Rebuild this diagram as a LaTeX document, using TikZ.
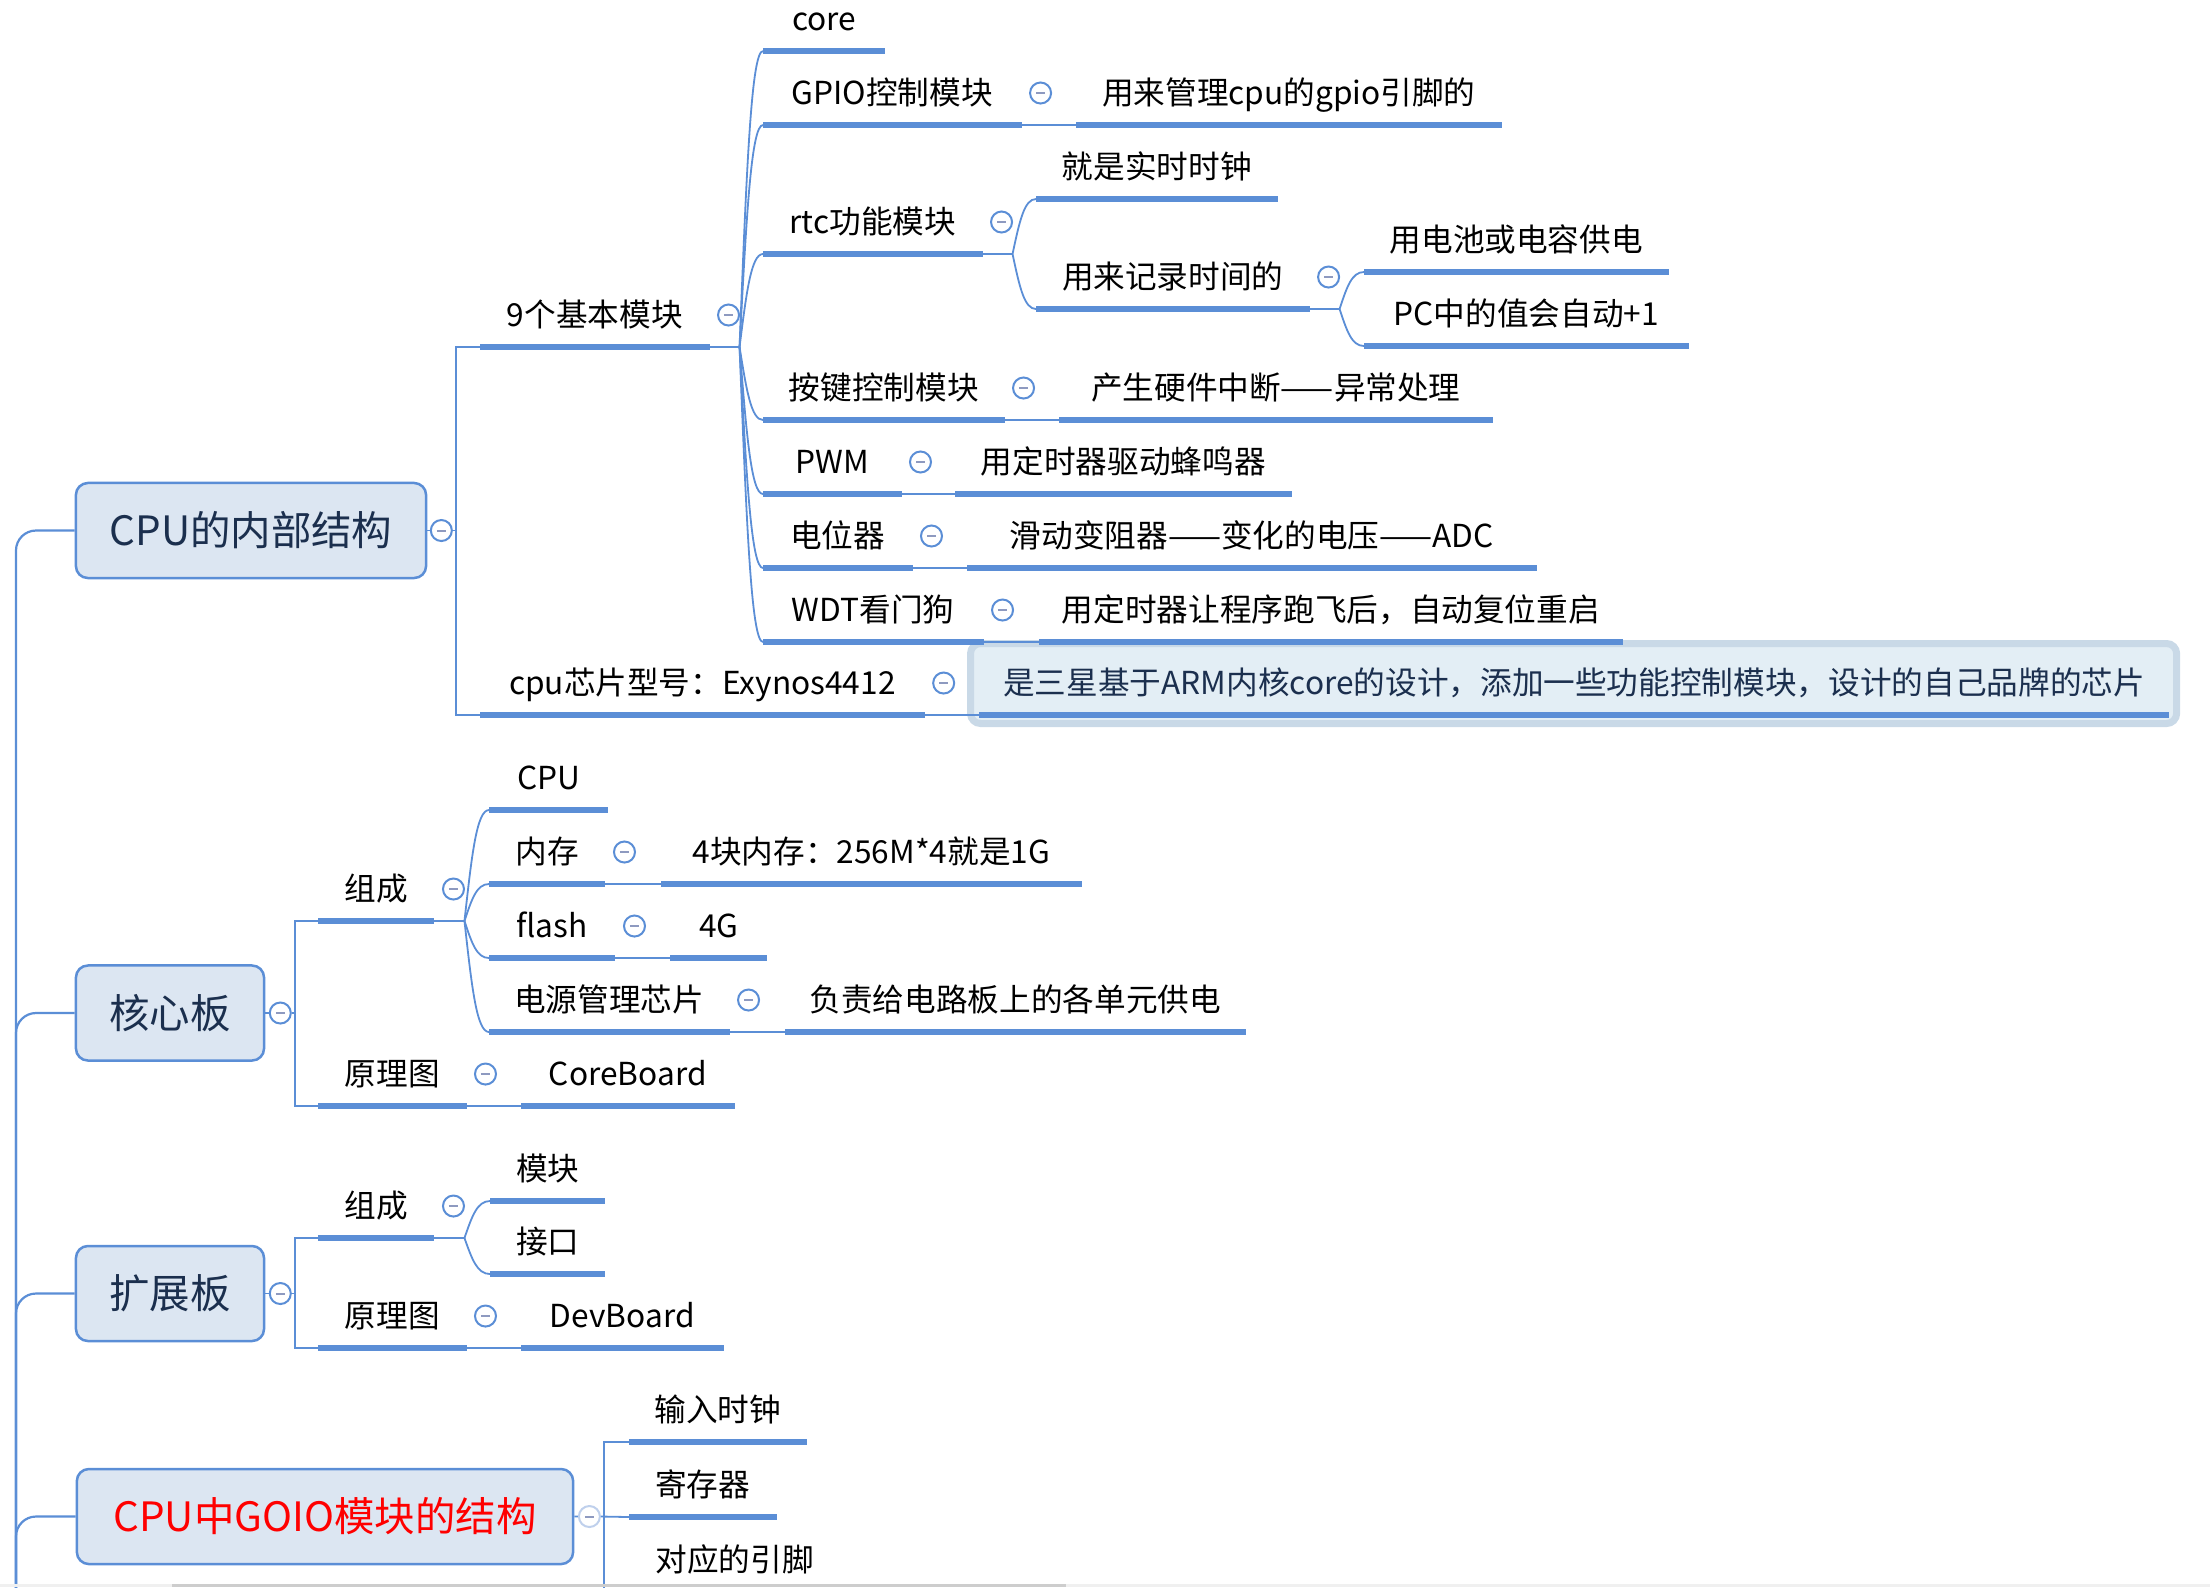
\documentclass[tikz,border=0pt]{standalone}
\usepackage{fontspec}
\setmainfont{Noto Sans CJK SC}
\usetikzlibrary{calc, backgrounds}
\definecolor{mmLine}{HTML}{5B8ED6}
\definecolor{mmFill}{HTML}{DCE6F2}
\definecolor{mmText}{HTML}{1B2F4E}
\definecolor{mmMinus}{HTML}{8E9AC0}
\definecolor{mmNote}{HTML}{E3EEF5}
\definecolor{mmNoteRim}{HTML}{C9D9E7}
\definecolor{mmFaint}{HTML}{BFD0EC}
\definecolor{mmBar}{HTML}{CDCDCD}
\definecolor{mmTrack}{HTML}{F0F0F0}

\begin{document}
\begin{tikzpicture}[
  x=0.01cm, y=-0.01cm,
  main/.style={draw=mmLine, line width=0.025cm, fill=mmFill, rounded corners=0.12cm,
               text=mmText, font=\fontsize{11.5}{14}\selectfont, inner sep=0pt,
               minimum height=0.95cm},
  topic/.style={anchor=south west, inner xsep=2pt, inner ysep=0.15cm,
                text height=0.27cm, text depth=0.05cm, minimum width=#1,
                font=\fontsize{9}{11}\selectfont},
  uline/.style={mmLine, line width=0.06cm},
  conn/.style={mmLine, line width=0.018cm},
  fold/.style={circle, draw=#1, line width=0.02cm, fill=white, minimum size=0.21cm,
               inner sep=0pt,
               path picture={\draw[mmMinus, line width=0.02cm]
                 ([xshift=-0.045cm]path picture bounding box.center) --
                 ([xshift=0.045cm]path picture bounding box.center);}},
  fold/.default=mmLine,
  noteframe/.style={draw=mmNoteRim, line width=0.07cm, fill=mmNote, rounded corners=0.1cm}
]
  \useasboundingbox (0,0) rectangle (2210,1587);

  % main topics
  \node[main, minimum width=3.50cm] (m1) at (251,530.5) {CPU的内部结构};
  \node[main, minimum width=1.88cm] (m2) at (170,1013) {核心板};
  \node[main, minimum width=1.88cm] (m3) at (170,1293.5) {扩展板};
  \node[main, minimum width=4.96cm, text=red] (m4) at (325,1516.5) {CPU中GOIO模块的结构};

  % CPU的内部结构
  \node[topic=2.28cm] (nine) at (480,347) {9个基本模块};
  \node[topic=4.43cm] (chip) at (480,715) {cpu芯片型号：Exynos4412};
  \node[topic=11.88cm, text=mmText] (note) at (979,715) {是三星基于ARM内核core的设计，添加一些功能控制模块，设计的自己品牌的芯片};

  % 9个基本模块
  \node[topic=1.21cm] (core) at (763,51) {core};
  \node[topic=2.57cm] (gpio) at (763,125) {GPIO控制模块};
  \node[topic=4.24cm] (gpio-n) at (1076,125) {用来管理cpu的gpio引脚的};
  \node[topic=2.18cm] (rtc) at (763,254) {rtc功能模块};
  \node[topic=2.40cm] (rtc-a) at (1036,199) {就是实时时钟};
  \node[topic=2.72cm] (rtc-b) at (1036,309) {用来记录时间的};
  \node[topic=3.03cm] (rtc-b1) at (1364,272) {用电池或电容供电};
  \node[topic=3.23cm] (rtc-b2) at (1364,346) {PC中的值会自动+1};
  \node[topic=2.40cm] (key) at (763,420) {按键控制模块};
  \node[topic=4.32cm] (key-n) at (1059,420) {产生硬件中断——异常处理};
  \node[topic=1.37cm] (pwm) at (763,494) {PWM};
  \node[topic=3.35cm] (pwm-n) at (955,494) {用定时器驱动蜂鸣器};
  \node[topic=1.48cm] (pot) at (763,568) {电位器};
  \node[topic=5.68cm] (pot-n) at (967,568) {滑动变阻器——变化的电压——ADC};
  \node[topic=2.19cm] (wdt) at (763,642) {WDT看门狗};
  \node[topic=5.82cm] (wdt-n) at (1039,642) {用定时器让程序跑飞后，自动复位重启};

  % 核心板
  \node[topic=1.15cm] (k-zc) at (318,921) {组成};
  \node[topic=1.18cm] (k-cpu) at (489,810) {CPU};
  \node[topic=1.15cm] (k-mem) at (489,884) {内存};
  \node[topic=4.19cm] (k-mem-n) at (661,884) {4块内存：256M*4就是1G};
  \node[topic=1.25cm] (k-fl) at (489,958) {flash};
  \node[topic=0.96cm] (k-fl-n) at (670,958) {4G};
  \node[topic=2.39cm] (k-pw) at (489,1032) {电源管理芯片};
  \node[topic=4.59cm] (k-pw-n) at (785,1032) {负责给电路板上的各单元供电};
  \node[topic=1.47cm] (k-yl) at (318,1106) {原理图};
  \node[topic=2.12cm] (k-yl-n) at (521,1106) {CoreBoard};

  % 扩展板
  \node[topic=1.15cm] (e-zc) at (318,1238) {组成};
  \node[topic=1.14cm] (e-mk) at (490,1201) {模块};
  \node[topic=1.14cm] (e-jk) at (490,1274) {接口};
  \node[topic=1.47cm] (e-yl) at (318,1348) {原理图};
  \node[topic=2.01cm] (e-yl-n) at (521,1348) {DevBoard};

  % CPU中GOIO模块的结构
  \node[topic=1.76cm] (g-clk) at (629,1442) {输入时钟};
  \node[topic=1.46cm] (g-reg) at (629,1517) {寄存器};
  \node[topic=2.10cm] (g-pin) at (629,1592) {对应的引脚};

  \begin{scope}[on background layer]
    \draw[noteframe] ($(note.south west)+(-8.5,8.5)$) rectangle ($(note.south east)+(7.5,-71.5)$);
  \end{scope}

  \foreach \n in {nine,chip,note,core,gpio,gpio-n,rtc,rtc-a,rtc-b,rtc-b1,rtc-b2,key,key-n,
                  pwm,pwm-n,pot,pot-n,wdt,wdt-n,k-zc,k-cpu,k-mem,k-mem-n,k-fl,k-fl-n,
                  k-pw,k-pw-n,k-yl,k-yl-n,e-zc,e-mk,e-jk,e-yl,e-yl-n,g-clk,g-reg,g-pin}
    \draw[uline] (\n.south west) -- (\n.south east);

  % fold buttons
  \foreach \n in {nine,chip,gpio,rtc,rtc-b,key,pwm,pot,wdt,k-zc,k-mem,k-fl,k-pw,k-yl,e-zc,e-yl}
    \node[fold] (\n-f) at ($(\n.south east)+(19,-32)$) {};
  \node[fold] (m1-f) at ($(m1.east)+(14,0)$) {};
  \node[fold] (m2-f) at ($(m2.east)+(15,0)$) {};
  \node[fold] (m3-f) at ($(m3.east)+(15,0)$) {};
  \node[fold=mmFaint] (m4-f) at ($(m4.east)+(15,0)$) {};

  % curved branches
  \foreach \p/\cs in {nine/{core,gpio,rtc,key,pwm,pot,wdt}, rtc/{rtc-a,rtc-b},
                      rtc-b/{rtc-b1,rtc-b2}, k-zc/{k-cpu,k-mem,k-fl,k-pw}, e-zc/{e-mk,e-jk}} {
    \coordinate (\p-j) at ($(\p.south east)+(30,0)$);
    \draw[conn] (\p.south east) -- (\p-j);
    \foreach \c in \cs {
      \coordinate (\c-k) at ($(\p-j |- \c.south west)!0.5!(\c.south west)$);
      \draw[conn] (\p-j) .. controls ($(\p-j)!0.6!(\c-k)$) and (\c-k) .. (\c.south west);
    }
  }

  % straight links
  \foreach \a/\b in {gpio/gpio-n, key/key-n, pwm/pwm-n, pot/pot-n, wdt/wdt-n, chip/note,
                     k-mem/k-mem-n, k-fl/k-fl-n, k-pw/k-pw-n, k-yl/k-yl-n, e-yl/e-yl-n}
    \draw[conn] (\a.south east) -- (\b.south west);

  % elbows
  \coordinate (m1-e) at (456,530.5);
  \coordinate (m2-e) at (295,1013);
  \coordinate (m3-e) at (295,1293.5);
  \coordinate (m4-e) at (604,1600);
  \foreach \m in {m1,m2,m3}
    \draw[conn] (\m.east) -- (\m-f.west) (\m-f.east) -- (\m-e);
  \draw[conn] (nine.south west) -| (m1-e) |- (chip.south west);
  \draw[conn] (k-zc.south west) -| (m2-e) |- (k-yl.south west);
  \draw[conn] (e-zc.south west) -| (m3-e) |- (e-yl.south west);
  \draw[conn] (m4.east) -- (m4-f.west) (m4-f.east) -- (g-reg.south west);
  \draw[conn] (g-clk.south west) -| (m4-e);
  \draw[conn] (g-pin.south west) -- (g-pin.south west -| m4-e);

  % spine
  \coordinate (spine) at (16,1600);
  \foreach \m in {m1,m2,m3,m4}
    \draw[conn, line width=0.022cm, rounded corners=0.2cm] (\m.west) -| (spine);

  % scroll bar
  \fill[mmTrack] (0,1584) rectangle (2210,1587);
  \fill[mmBar] (172,1584) rectangle (1066,1587);
\end{tikzpicture}
\end{document}
